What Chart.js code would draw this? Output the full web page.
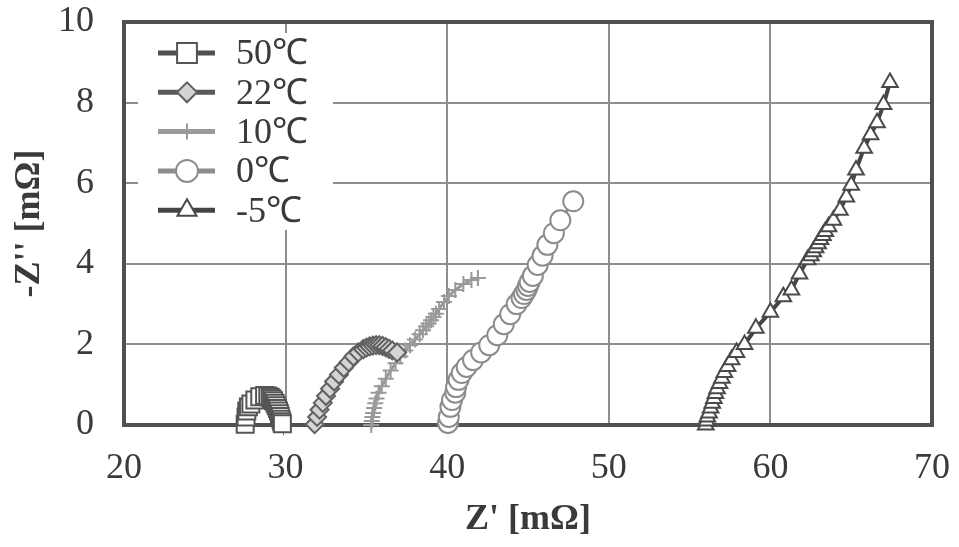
<!DOCTYPE html>
<html>
<head>
<meta charset="utf-8">
<script src="https://cdn.jsdelivr.net/npm/chart.js"></script>
<style>
  body { margin: 0; background: #fff; }
  canvas { display: block; }
</style>
</head>
<body>
<canvas id="grafico" width="959" height="547"></canvas>
<script>
// ===== datos (Z' y -Z'' en mΩ) =====
const etiquetas = ["50℃", "22℃", "10℃", "0℃", "-5℃"];

const x50 = [27.5, 27.55, 27.6, 27.7, 27.85, 28.1, 28.4, 28.7, 28.9, 29.05, 29.15, 29.25, 29.35, 29.42, 29.5, 29.56, 29.62, 29.67, 29.72, 29.76, 29.8];
const y50 = [0.02, 0.2, 0.35, 0.45, 0.52, 0.62, 0.7, 0.73, 0.72, 0.69, 0.65, 0.6, 0.54, 0.48, 0.41, 0.35, 0.28, 0.21, 0.14, 0.08, 0.03];

const x22 = [31.8, 31.95, 32.1, 32.3, 32.5, 32.75, 33.0, 33.3, 33.6, 33.9, 34.2, 34.5, 34.8, 35.0, 35.2, 35.4, 35.6, 35.8, 36.0, 36.2, 36.4, 36.6, 36.9];
const y22 = [0.02, 0.2, 0.38, 0.55, 0.72, 0.9, 1.08, 1.25, 1.42, 1.56, 1.7, 1.8, 1.88, 1.92, 1.95, 1.97, 1.98, 1.98, 1.96, 1.93, 1.89, 1.85, 1.8];

const x10 = [35.3, 35.33, 35.37, 35.42, 35.48, 35.55, 35.63, 35.75, 35.95, 36.2, 36.5, 36.8, 37.1, 37.4, 37.7, 38.0, 38.3, 38.5, 38.7, 38.85, 39.0, 39.15, 39.3, 39.5, 39.8, 40.1, 40.5, 41.0, 41.5, 41.9];
const y10 = [0.0, 0.1, 0.2, 0.3, 0.42, 0.54, 0.66, 0.8, 0.96, 1.15, 1.35, 1.53, 1.7, 1.85, 1.98, 2.12, 2.25, 2.35, 2.45, 2.52, 2.6, 2.68, 2.76, 2.88, 3.05, 3.2, 3.35, 3.5, 3.6, 3.65];

const x0 = [40.05, 40.1, 40.2, 40.3, 40.5, 40.55, 40.7, 40.9, 41.2, 41.6, 42.1, 42.6, 43.1, 43.5, 43.9, 44.3, 44.6, 44.75, 44.9, 45.0, 45.1, 45.3, 45.6, 45.9, 46.2, 46.6, 47.0, 47.8];
const y0 = [0.05, 0.2, 0.45, 0.62, 0.8, 0.94, 1.12, 1.29, 1.44, 1.61, 1.8, 1.98, 2.23, 2.5, 2.75, 3.0, 3.15, 3.25, 3.35, 3.45, 3.55, 3.7, 3.97, 4.2, 4.47, 4.76, 5.08, 5.55];

const xm5 = [56.0, 56.05, 56.1, 56.2, 56.3, 56.4, 56.5, 56.6, 56.7, 56.85, 57.0, 57.15, 57.35, 57.6, 57.9, 58.4, 59.1, 60.0, 60.8, 61.3, 61.8, 62.3, 62.5, 62.65, 62.8, 62.95, 63.1, 63.25, 63.4, 63.6, 63.9, 64.3, 64.7, 65.0, 65.3, 65.8, 66.2, 66.6, 67.0, 67.4];
const ym5 = [0.0, 0.1, 0.2, 0.3, 0.42, 0.54, 0.66, 0.78, 0.9, 1.03, 1.16, 1.3, 1.45, 1.62, 1.8, 2.0, 2.4, 2.8, 3.18, 3.35, 3.75, 4.1, 4.2, 4.3, 4.4, 4.5, 4.6, 4.7, 4.8, 4.92, 5.08, 5.33, 5.66, 5.95, 6.33, 6.87, 7.2, 7.5, 7.95, 8.5];

const ticksX = [20, 30, 40, 50, 60, 70];
const ticksY = [0, 2, 4, 6, 8, 10];

// ===== estilos =====
const fuente = "'Liberation Serif', 'Times New Roman', serif";
const colorTexto = "#3a3a3a";

const estilos = [
  { linea: "#505050", borde: "#555555", relleno: "#ffffff", forma: "rect", r: 12, rLeyenda: 14, grosor: 4 },
  { linea: "#5a5a5a", borde: "#606060", relleno: "#d4d4d4", forma: "rectRot", r: 9, rLeyenda: 10, grosor: 4 },
  { linea: "#9a9a9a", borde: "#9a9a9a", relleno: "#9a9a9a", forma: "cross", r: 8, rLeyenda: 8, grosor: 3 },
  { linea: "#8c8c8c", borde: "#8c8c8c", relleno: "#ffffff", forma: "circle", r: 10, rLeyenda: 11, grosor: 3 },
  { linea: "#444444", borde: "#4a4a4a", relleno: "#ffffff", forma: "triangle", r: 9, rLeyenda: 11, grosor: 4 },
];

const series = [[x50, y50], [x22, y22], [x10, y10], [x0, y0], [xm5, ym5]];

const datasets = series.map(([xs, ys], i) => ({
  label: etiquetas[i],
  data: xs.map((x, k) => ({ x, y: ys[k] })),
  showLine: true,
  borderColor: estilos[i].linea,
  borderWidth: estilos[i].grosor,
  pointStyle: estilos[i].forma,
  pointRadius: estilos[i].r,
  pointBorderColor: estilos[i].borde,
  pointBackgroundColor: estilos[i].relleno,
  pointBorderWidth: 2,
  clip: false,
}));

// marco grueso alrededor del área de trazado
const marco = {
  id: "marco",
  beforeDatasetsDraw(chart) {
    const { ctx, chartArea: a } = chart;
    ctx.save();
    ctx.strokeStyle = "#505050";
    ctx.lineWidth = 4;
    ctx.strokeRect(a.left, a.top, a.right - a.left, a.bottom - a.top);
    ctx.restore();
  }
};

// leyenda dentro del área, con línea + marcador
const leyenda = {
  id: "leyenda",
  afterDatasetsDraw(chart) {
    const { ctx } = chart;
    ctx.save();
    ctx.fillStyle = "#ffffff";
    ctx.fillRect(138, 33, 195, 197);
    etiquetas.forEach((txt, i) => {
      const y = 53 + i * 39.3;
      const e = estilos[i];
      ctx.strokeStyle = e.linea;
      ctx.lineWidth = 5;
      ctx.beginPath();
      ctx.moveTo(158, y);
      ctx.lineTo(215, y);
      ctx.stroke();
      ctx.fillStyle = e.relleno;
      ctx.strokeStyle = e.borde;
      ctx.lineWidth = 2;
      Chart.helpers.drawPoint(ctx, { pointStyle: e.forma, radius: e.rLeyenda, rotation: 0, borderWidth: 2 }, 187, y);
      ctx.fillStyle = colorTexto;
      ctx.font = "36px " + fuente;
      ctx.textBaseline = "middle";
      ctx.textAlign = "left";
      ctx.fillText(txt, 236, y + 2);
    });
    ctx.restore();
  }
};

new Chart(document.getElementById("grafico"), {
  type: "scatter",
  data: { datasets },
  plugins: [marco, leyenda],
  options: {
    responsive: false,
    animation: false,
    devicePixelRatio: 1,
    layout: { padding: { top: 22, right: 27, bottom: 0, left: 0 } },
    plugins: { legend: { display: false }, tooltip: { enabled: false } },
    scales: {
      x: {
        type: "linear",
        min: ticksX[0],
        max: ticksX[ticksX.length - 1],
        afterBuildTicks: (s) => { s.ticks = ticksX.map(v => ({ value: v })); },
        afterFit: (s) => { s.height = 122; s.paddingLeft = 0; s.paddingRight = 0; },
        grid: { color: "#8e8e8e", lineWidth: 2, drawTicks: false },
        border: { display: false },
        ticks: { padding: 22, color: colorTexto, font: { family: fuente, size: 36 }, maxRotation: 0 },
        title: {
          display: true,
          text: "Z' [mΩ]",
          color: colorTexto,
          font: { family: fuente, size: 36, weight: "bold" },
          padding: { top: 0, bottom: 6 }
        }
      },
      y: {
        type: "linear",
        min: ticksY[0],
        max: ticksY[ticksY.length - 1],
        afterBuildTicks: (s) => { s.ticks = ticksY.map(v => ({ value: v })); },
        afterFit: (s) => { s.width = 124; s.paddingTop = 0; s.paddingBottom = 0; },
        grid: { color: "#8e8e8e", lineWidth: 2, drawTicks: false },
        border: { display: false },
        ticks: { padding: 30, color: colorTexto, font: { family: fuente, size: 36 } },
        title: {
          display: true,
          text: "-Z'' [mΩ]",
          color: colorTexto,
          font: { family: fuente, size: 36, weight: "bold" },
          padding: { top: 8, bottom: 0 }
        }
      }
    }
  }
});
</script>
</body>
</html>
